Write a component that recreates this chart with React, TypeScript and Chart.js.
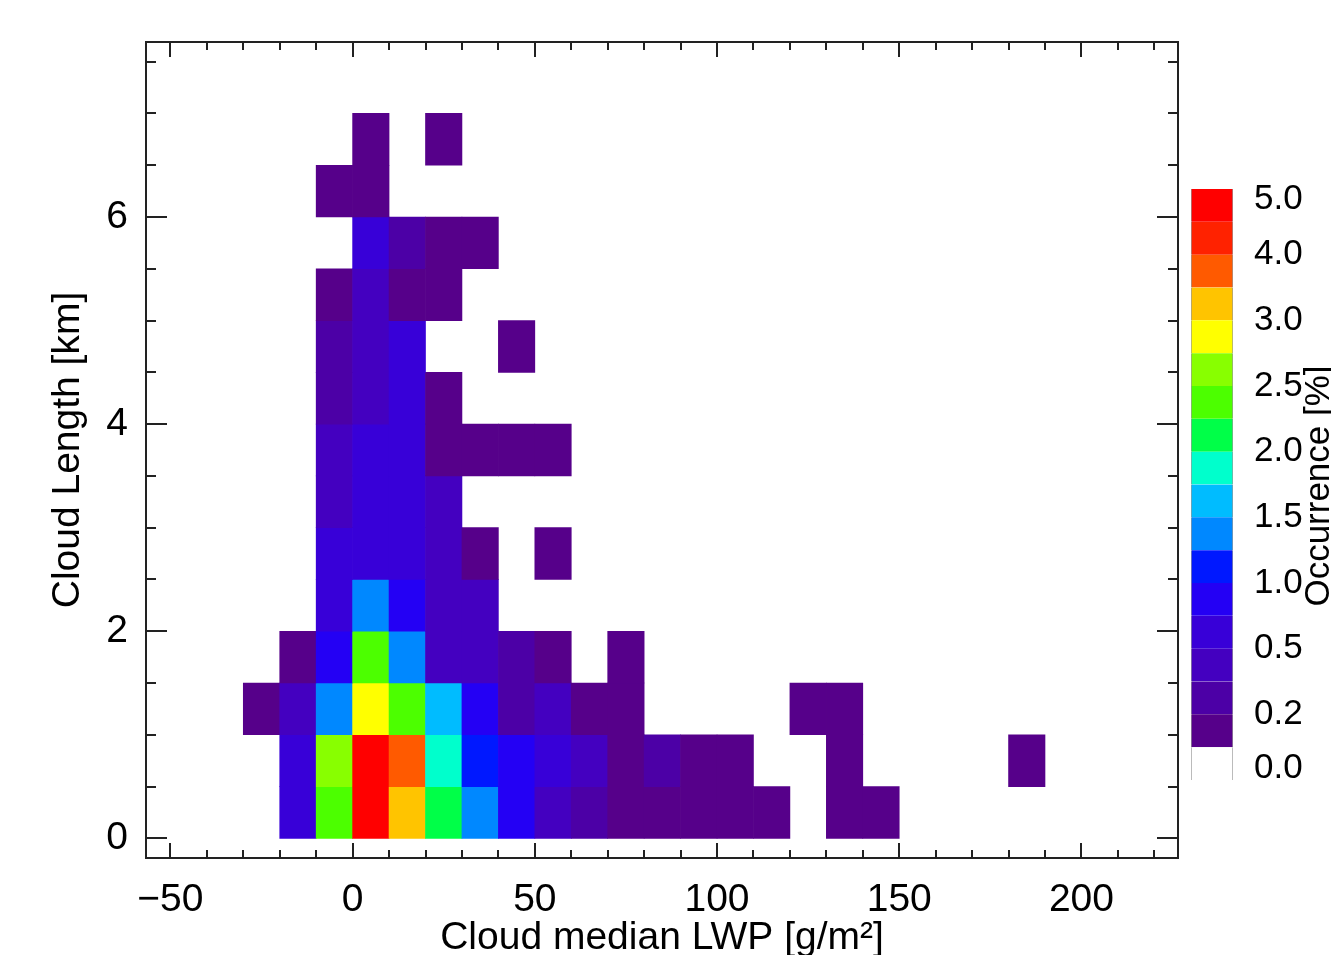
import React, { useEffect, useRef } from 'react';
import { Chart, registerables } from 'chart.js';

Chart.register(...registerables);

const FONT = "'Liberation Sans', Arial, Helvetica, sans-serif";

// LWP bin lower edges [g/m^2] (bin width 10)
const lwpBins = [-30, -20, -10, 0, 10, 20, 30, 40, 50, 60, 70, 80, 90, 100, 110, 120, 130, 140, 150, 160, 170, 180];
// Cloud length bin lower edges [km] (bin width 0.5)
const lengthBins = [0, 0.5, 1, 1.5, 2, 2.5, 3, 3.5, 4, 4.5, 5, 5.5, 6, 6.5];

// Occurrence [%] per cloud-length bin, columns follow lwpBins
const occL00 = [0, 0.6, 2.4, 5.0, 3.2, 2.1, 1.4, 0.9, 0.45, 0.3, 0.15, 0.15, 0.15, 0.15, 0.15, 0, 0.15, 0.15, 0, 0, 0, 0];
const occL05 = [0, 0.6, 2.6, 4.8, 3.8, 1.9, 1.1, 0.8, 0.6, 0.45, 0.15, 0.25, 0.15, 0.15, 0, 0, 0.15, 0, 0, 0, 0, 0.15];
const occL10 = [0.15, 0.4, 1.4, 2.9, 2.4, 1.6, 0.85, 0.3, 0.4, 0.15, 0.15, 0, 0, 0, 0, 0.15, 0.15, 0, 0, 0, 0, 0];
const occL15 = [0, 0.15, 0.85, 2.4, 1.4, 0.4, 0.4, 0.25, 0.15, 0, 0.15, 0, 0, 0, 0, 0, 0, 0, 0, 0, 0, 0];
const occL20 = [0, 0, 0.7, 1.4, 0.9, 0.45, 0.4, 0, 0, 0, 0, 0, 0, 0, 0, 0, 0, 0, 0, 0, 0, 0];
const occL25 = [0, 0, 0.55, 0.7, 0.6, 0.45, 0.15, 0, 0.15, 0, 0, 0, 0, 0, 0, 0, 0, 0, 0, 0, 0, 0];
const occL30 = [0, 0, 0.4, 0.6, 0.5, 0.45, 0, 0, 0, 0, 0, 0, 0, 0, 0, 0, 0, 0, 0, 0, 0, 0];
const occL35 = [0, 0, 0.35, 0.6, 0.5, 0.15, 0.15, 0.15, 0.15, 0, 0, 0, 0, 0, 0, 0, 0, 0, 0, 0, 0, 0];
const occL40 = [0, 0, 0.25, 0.45, 0.5, 0.15, 0, 0, 0, 0, 0, 0, 0, 0, 0, 0, 0, 0, 0, 0, 0, 0];
const occL45 = [0, 0, 0.3, 0.45, 0.5, 0, 0, 0.15, 0, 0, 0, 0, 0, 0, 0, 0, 0, 0, 0, 0, 0, 0];
const occL50 = [0, 0, 0.15, 0.45, 0.15, 0.15, 0, 0, 0, 0, 0, 0, 0, 0, 0, 0, 0, 0, 0, 0, 0, 0];
const occL55 = [0, 0, 0, 0.55, 0.3, 0.15, 0.15, 0, 0, 0, 0, 0, 0, 0, 0, 0, 0, 0, 0, 0, 0, 0];
const occL60 = [0, 0, 0.15, 0.15, 0, 0, 0, 0, 0, 0, 0, 0, 0, 0, 0, 0, 0, 0, 0, 0, 0, 0];
const occL65 = [0, 0, 0, 0.15, 0, 0.15, 0, 0, 0, 0, 0, 0, 0, 0, 0, 0, 0, 0, 0, 0, 0, 0];
const occurrenceRows = [occL00, occL05, occL10, occL15, occL20, occL25, occL30, occL35, occL40, occL45, occL50, occL55, occL60, occL65];

// Axis ticks
const xTicks = [-50, 0, 50, 100, 150, 200];
const xTickLabels = ['\u221250', '0', '50', '100', '150', '200'];
const yTicks = [0, 2, 4, 6];
const yTickLabels = ['0', '2', '4', '6'];

// Colour bar levels [%] and colours
const cbLevels = [0, 0.1, 0.2, 0.35, 0.5, 0.75, 1, 1.25, 1.5, 1.75, 2, 2.25, 2.5, 2.75, 3, 3.5, 4, 4.5, 5];
const cbColors = ['#ffffff', '#56008a', '#4c00a6', '#4400c0', '#3800d8', '#2400f4', '#0018ff', '#0088ff', '#00bcff', '#00ffcc', '#00ff48', '#4cff00', '#88ff00', '#ffff00', '#ffc400', '#ff5a00', '#ff2200', '#ff0000'];
const cbTickValues = [0, 0.2, 0.5, 1, 1.5, 2, 2.5, 3, 4, 5];
const cbTickLabels = ['0.0', '0.2', '0.5', '1.0', '1.5', '2.0', '2.5', '3.0', '4.0', '5.0'];

function colorFor(v: number): string {
  for (let i = cbLevels.length - 2; i >= 0; i--) {
    if (v >= cbLevels[i]) return cbColors[i];
  }
  return cbColors[0];
}

const framePlugin = {
  id: 'idlFrame',
  afterDraw(chart: any) {
    const { ctx, chartArea: a, scales } = chart;
    const x = scales.x;
    const y = scales.y;
    ctx.save();
    ctx.strokeStyle = '#222';
    ctx.lineWidth = 2;
    ctx.beginPath();
    // x ticks (major every 50, minor every 10)
    for (let v = -50; v <= 220; v += 10) {
      const px = Math.round(x.getPixelForValue(v));
      const len = xTicks.includes(v) ? 15 : 8;
      ctx.moveTo(px, a.bottom);
      ctx.lineTo(px, a.bottom - len);
      ctx.moveTo(px, a.top);
      ctx.lineTo(px, a.top + len);
    }
    // y ticks (major every 2, minor every 0.5)
    for (let k = 0; k <= 15; k++) {
      const v = k * 0.5;
      const py = Math.round(y.getPixelForValue(v));
      const len = yTicks.includes(v) ? 21 : 10;
      ctx.moveTo(a.left, py);
      ctx.lineTo(a.left + len, py);
      ctx.moveTo(a.right, py);
      ctx.lineTo(a.right - len, py);
    }
    ctx.stroke();
    ctx.strokeRect(a.left, a.top, a.right - a.left, a.bottom - a.top);
    ctx.restore();
  },
};

const cbTitlePlugin = {
  id: 'cbTitle',
  afterDraw(chart: any) {
    const { ctx, chartArea: a } = chart;
    ctx.save();
    ctx.translate(134, (a.top + a.bottom) / 2 + 1.5);
    ctx.rotate(-Math.PI / 2);
    ctx.font = `35px ${FONT}`;
    ctx.fillStyle = '#000';
    ctx.textAlign = 'center';
    ctx.textBaseline = 'middle';
    ctx.fillText('Occurrence [%]', 0, 0);
    ctx.restore();
  },
};

export default function App() {
  const mainRef = useRef<HTMLCanvasElement>(null);
  const cbRef = useRef<HTMLCanvasElement>(null);

  useEffect(() => {
    const cells: any[] = [];
    occurrenceRows.forEach((row, ri) => {
      row.forEach((v, ci) => {
        if (v > 0) {
          cells.push({ x: lwpBins[ci] + 5, y: [lengthBins[ri], lengthBins[ri] + 0.5], v });
        }
      });
    });

    const main = new Chart(mainRef.current as HTMLCanvasElement, {
      type: 'bar',
      data: {
        datasets: [
          {
            data: cells,
            backgroundColor: (c: any) => colorFor(c.raw ? c.raw.v : 0),
            borderWidth: 0,
            barPercentage: 1,
            categoryPercentage: 1,
          } as any,
        ],
      },
      options: {
        responsive: false,
        animation: false,
        layout: { padding: { left: 0, top: 42, right: 153, bottom: 0 } },
        plugins: { legend: { display: false }, tooltip: { enabled: false } },
        scales: {
          x: {
            type: 'linear',
            min: -56.7,
            max: 226.5,
            offset: false,
            grid: { display: false },
            border: { display: false },
            afterBuildTicks: (s: any) => {
              s.ticks = xTicks.map((v) => ({ value: v }));
            },
            afterFit: (s: any) => {
              s.height = 97;
            },
            ticks: {
              autoSkip: false,
              maxRotation: 0,
              padding: 11,
              color: '#000',
              font: { family: FONT, size: 39, lineHeight: 1.2 },
              callback: (v: any) => xTickLabels[xTicks.indexOf(Number(v))],
            },
            title: {
              display: true,
              text: 'Cloud median LWP [g/m\u00b2]',
              color: '#000',
              font: { family: FONT, size: 39, lineHeight: 0.85 },
              padding: { top: 0, bottom: 0 },
            },
          },
          y: {
            type: 'linear',
            min: -0.19,
            max: 7.69,
            grid: { display: false },
            border: { display: false },
            afterBuildTicks: (s: any) => {
              s.ticks = yTicks.map((v) => ({ value: v }));
            },
            afterFit: (s: any) => {
              s.width = 146;
            },
            ticks: {
              autoSkip: false,
              padding: 10,
              color: '#000',
              font: { family: FONT, size: 39 },
              callback: (v: any) => yTickLabels[yTicks.indexOf(Number(v))],
            },
            title: {
              display: true,
              text: 'Cloud Length [km]',
              color: '#000',
              font: { family: FONT, size: 39, lineHeight: 1 },
              padding: { top: 49, bottom: 0 },
            },
          },
        },
      } as any,
      plugins: [framePlugin],
    });

    const nBlocks = cbColors.length;
    const cbTickPos = cbTickValues.map((v) => {
      const idx = cbLevels.indexOf(v);
      return Math.min(Math.max(idx, 0.36), nBlocks - 0.3);
    });

    const cb = new Chart(cbRef.current as HTMLCanvasElement, {
      type: 'bar',
      data: {
        labels: [''],
        datasets: cbColors.map((c, i) => ({
          data: [[i, i + 1]],
          backgroundColor: c,
          borderColor: '#9a9a9a',
          borderWidth: { left: 1, right: 1, top: 0, bottom: 0 },
          borderSkipped: false,
          grouped: false,
          barPercentage: 1,
          categoryPercentage: 1,
        })) as any,
      },
      options: {
        responsive: false,
        animation: false,
        layout: { padding: { left: 6, top: 19, right: 0, bottom: 20 } },
        plugins: { legend: { display: false }, tooltip: { enabled: false } },
        scales: {
          x: { type: 'category', display: false },
          y: {
            type: 'linear',
            position: 'right',
            min: 0,
            max: nBlocks,
            grid: { display: false },
            border: { display: false },
            afterBuildTicks: (s: any) => {
              s.ticks = cbTickPos.map((v) => ({ value: v }));
            },
            afterFit: (s: any) => {
              s.width = 98;
              s.paddingTop = 0;
              s.paddingBottom = 0;
            },
            ticks: {
              autoSkip: false,
              padding: 13,
              color: '#000',
              font: { family: FONT, size: 35 },
              callback: (v: any) => cbTickLabels[cbTickPos.indexOf(Number(v))],
            },
          },
        },
      } as any,
      plugins: [cbTitlePlugin],
    });

    return () => {
      main.destroy();
      cb.destroy();
    };
  }, []);

  return (
    <div style={{ position: 'fixed', left: 0, top: 0, width: 1331, height: 955, overflow: 'hidden', background: '#fff' }}>
      <canvas ref={mainRef} width={1331} height={955} style={{ position: 'absolute', left: 0, top: 0, display: 'block' }} />
      <canvas ref={cbRef} width={146} height={630} style={{ position: 'absolute', left: 1185, top: 170, display: 'block' }} />
    </div>
  );
}
